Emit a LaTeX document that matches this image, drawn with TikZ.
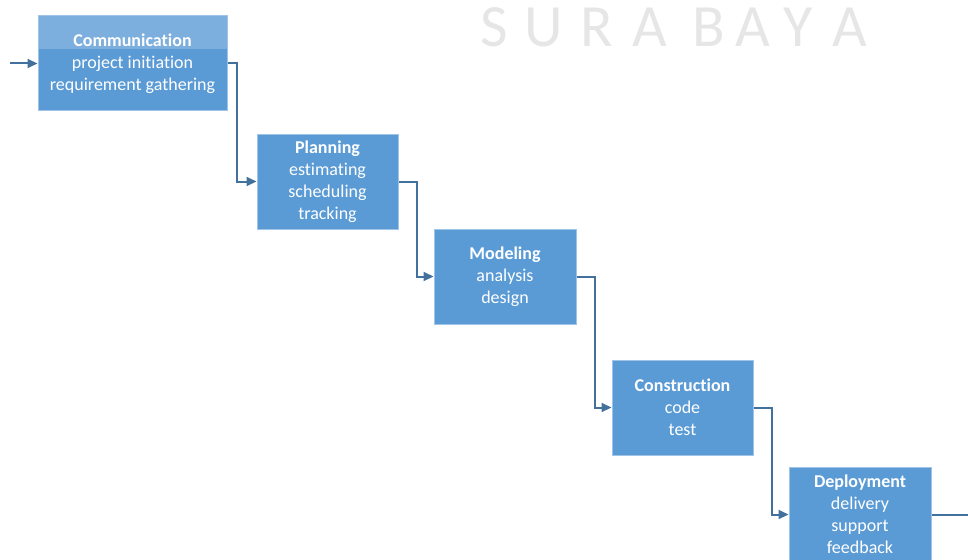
\documentclass[tikz,border=0pt]{standalone}
\usepackage{fontspec}
\setmainfont{Carlito}[Ligatures=NoCommon]
\usetikzlibrary{arrows.meta,positioning}
\definecolor{boxblue}{RGB}{91,155,213}
\definecolor{boxlight}{RGB}{124,174,222}
\definecolor{edge}{RGB}{160,196,232}
\definecolor{flow}{RGB}{65,113,156}
\definecolor{wmgray}{RGB}{230,230,230}
\tikzset{
  stage/.style={draw=edge, line width=1pt, fill=boxblue, align=center, text=white,
                minimum height=95pt, inner sep=2pt,
                font=\fontsize{18}{22}\selectfont},
  topband/.style={path picture={\fill[boxlight] (path picture bounding box.north west)
                rectangle ([yshift=-33pt]path picture bounding box.north east);}},
  arr/.style={-{Triangle[length=10pt,width=9pt]}, line width=2pt, draw=flow},
  line/.style={line width=2pt, draw=flow},
  wm/.style={text=wmgray, font=\fontsize{60}{60}\selectfont, anchor=base, inner sep=0pt},
}

\begin{document}
\begin{tikzpicture}[x=1pt, y=-1pt]
  \useasboundingbox (0,0) rectangle (968,559);

  % watermark
  \foreach \px/\ch [count=\i] in {494/S,544/U,597/R,650/A,709/B,753/A,798/Y,850/A}
    \node[wm] (wm\i) at (\px,47) {\ch};

  \node[stage, topband, minimum width=189pt] (comm) at (132.5,63.5)
    {\textbf{Communication}\\project initiation\\requirement gathering};
  \node[stage, minimum width=141pt] (plan) at (327.5,181.5)
    {\textbf{Planning}\\estimating\\scheduling\\tracking};
  \node[stage, minimum width=142pt] (model) at (505,276.5)
    {\textbf{Modeling}\\analysis\\design};
  \node[stage, minimum width=141pt] (constr) at (682.5,407.5)
    {\textbf{Construction}\\code\\test};
  \node[stage, minimum width=142pt] (deploy) at (860,514.5)
    {\textbf{Deployment}\\delivery\\support\\feedback};

  \coordinate (in) at (10,63.5);
  \coordinate (out) at (968,514.5);

  \draw[arr] (in) -- (comm.west);
  \draw[arr] (comm.east) -- ++(9,0) |- (plan.west);
  \draw[arr] (plan.east) -- ++(18,0) |- (model.west);
  \draw[arr] (model.east) -- ++(18,0) |- (constr.west);
  \draw[arr] (constr.east) -- ++(18,0) |- (deploy.west);
  \draw[line] (deploy.east) -- (out);
\end{tikzpicture}
\end{document}
